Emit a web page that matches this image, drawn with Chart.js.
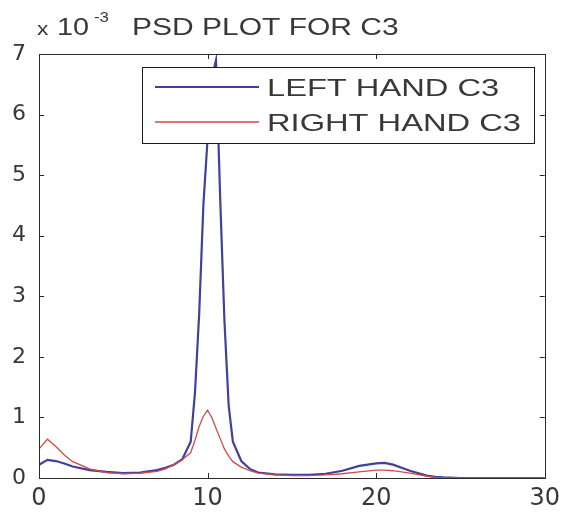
<!DOCTYPE html>
<html>
<head>
<meta charset="utf-8">
<script src="https://cdn.jsdelivr.net/npm/chart.js@4/dist/chart.umd.min.js"></script>
<style>
  html, body { margin: 0; padding: 0; background: #fff; }
  #psdChart { display: block; }
</style>
</head>
<body>
<canvas id="psdChart" width="566" height="512"></canvas>
<script>
// PSD plot for channel C3 (values in units of 1e-3)

const freqs = [0, 0.5, 1, 1.5, 2, 3, 4, 5, 6, 7, 7.5, 8, 8.5, 9, 9.25, 9.5, 9.75, 10, 10.25, 10.5,
               10.75, 11, 11.25, 11.5, 12, 12.5, 13, 14, 15, 16, 17, 18, 19, 20, 20.5, 21, 22, 23,
               23.5, 24, 25, 26, 27, 28, 29, 30];

const leftHand = [0.22, 0.30, 0.28, 0.24, 0.19, 0.13, 0.10, 0.08, 0.09, 0.13, 0.17, 0.22, 0.31, 0.60,
                  1.40, 2.70, 4.50, 5.60, 6.60, 6.90, 4.60, 2.60, 1.20, 0.60, 0.28, 0.15, 0.09, 0.06,
                  0.05, 0.05, 0.07, 0.12, 0.20, 0.24, 0.25, 0.22, 0.12, 0.04, 0.02, 0.01, 0, 0, 0, 0, 0, 0];

const rightHand = [0.48, 0.64, 0.52, 0.38, 0.27, 0.15, 0.09, 0.07, 0.08, 0.11, 0.15, 0.22, 0.30, 0.42,
                   0.62, 0.85, 1.02, 1.12, 1.00, 0.82, 0.65, 0.48, 0.36, 0.27, 0.18, 0.12, 0.08, 0.05,
                   0.04, 0.04, 0.05, 0.07, 0.10, 0.13, 0.13, 0.12, 0.08, 0.03, 0.01, 0, 0, 0, 0, 0, 0, 0];

const seriesLabels = ['LEFT HAND C3', 'RIGHT HAND C3'];
const titleText = 'PSD PLOT FOR C3';
const yTicks = [0, 1, 2, 3, 4, 5, 6, 7];
const xTicks = [0, 10, 20, 30];

const BLUE = '#40409e';
const RED = '#d24a4a';
const TEXT = '#383838';
const FONT = '"Liberation Sans", Arial, sans-serif';

function toPoints(xs, ys) {
    return xs.map((x, i) => ({ x: x, y: ys[i] }));
}

// stretched text helper (the source image is wider than tall)
function drawText(ctx, text, x, y, size, stretch) {
    ctx.save();
    ctx.font = size + 'px ' + FONT;
    ctx.fillStyle = TEXT;
    ctx.textBaseline = 'alphabetic';
    ctx.textAlign = 'left';
    ctx.translate(x, y);
    ctx.scale(stretch, 1);
    ctx.fillText(text, 0, 0);
    ctx.restore();
}

// box, inward ticks, title and legend, matlab style
const matlabFrame = {
    id: 'matlabFrame',
    afterDatasetsDraw(chart) {
        const ctx = chart.ctx;
        const a = chart.chartArea;
        const xs = chart.scales.x;
        const ys = chart.scales.y;

        ctx.save();
        ctx.strokeStyle = '#2a2a2a';
        ctx.lineWidth = 1;

        // inward ticks
        ctx.beginPath();
        xTicks.forEach(v => {
            const px = Math.round(xs.getPixelForValue(v)) + 0.5;
            ctx.moveTo(px, a.bottom); ctx.lineTo(px, a.bottom - 5);
            ctx.moveTo(px, a.top); ctx.lineTo(px, a.top + 5);
        });
        yTicks.forEach(v => {
            const py = Math.round(ys.getPixelForValue(v)) + 0.5;
            ctx.moveTo(a.left, py); ctx.lineTo(a.left + 5, py);
            ctx.moveTo(a.right, py); ctx.lineTo(a.right - 5, py);
        });
        ctx.stroke();

        // plot box
        ctx.strokeRect(Math.round(a.left) + 0.5, Math.round(a.top) + 0.5,
                       Math.round(a.right - a.left), Math.round(a.bottom - a.top));

        // legend
        const lx = 142, ly = 67, lw = 392, lh = 76;
        ctx.fillStyle = '#fff';
        ctx.fillRect(lx, ly, lw, lh);
        ctx.strokeStyle = '#1a1a1a';
        ctx.strokeRect(lx + 0.5, ly + 0.5, lw, lh);

        const rows = [{ label: seriesLabels[0], color: BLUE, width: 2, y: 87 },
                      { label: seriesLabels[1], color: RED, width: 1.3, y: 122 }];
        rows.forEach(r => {
            ctx.strokeStyle = r.color;
            ctx.lineWidth = r.width;
            ctx.beginPath();
            ctx.moveTo(155, r.y);
            ctx.lineTo(259, r.y);
            ctx.stroke();
            drawText(ctx, r.label, 267, r.y + 9, 24, 1.36);
        });

        // title with exponent
        drawText(ctx, 'x', 37, 35, 19, 1.2);
        drawText(ctx, '10', 57, 35, 24, 1.2);
        drawText(ctx, '-3', 94, 22, 14, 1.2);
        drawText(ctx, titleText, 132, 35, 24, 1.25);

        ctx.restore();
    }
};

const ctx = document.getElementById('psdChart');

new Chart(ctx, {
    type: 'line',
    data: {
        datasets: [
            {
                label: seriesLabels[0],
                data: toPoints(freqs, leftHand),
                borderColor: BLUE,
                borderWidth: 2.2,
                pointRadius: 0,
                tension: 0,
                fill: false,
                order: 2
            },
            {
                label: seriesLabels[1],
                data: toPoints(freqs, rightHand),
                borderColor: RED,
                borderWidth: 1.3,
                pointRadius: 0,
                tension: 0,
                fill: false,
                order: 1
            }
        ]
    },
    options: {
        responsive: false,
        animation: false,
        devicePixelRatio: 1,
        layout: {
            padding: { top: 54, right: 16, left: 0, bottom: 0 }
        },
        plugins: {
            legend: { display: false },
            tooltip: { enabled: false },
            title: { display: false }
        },
        scales: {
            x: {
                type: 'linear',
                min: 0,
                max: 30,
                afterBuildTicks: scale => {
                    scale.ticks = xTicks.map(v => ({ value: v }));
                },
                afterFit: scale => { scale.height = 34; },
                grid: { display: false, drawTicks: false },
                border: { display: false },
                ticks: {
                    padding: 6,
                    color: TEXT,
                    maxRotation: 0,
                    font: { family: '"DejaVu Sans", sans-serif', size: 24 }
                }
            },
            y: {
                type: 'linear',
                min: 0,
                max: 7,
                afterBuildTicks: scale => {
                    scale.ticks = yTicks.map(v => ({ value: v }));
                },
                afterFit: scale => { scale.width = 39; },
                grid: { display: false, drawTicks: false },
                border: { display: false },
                ticks: {
                    padding: 13,
                    color: TEXT,
                    font: { family: '"DejaVu Sans", sans-serif', size: 22 }
                }
            }
        }
    },
    plugins: [matlabFrame]
});
</script>
</body>
</html>
